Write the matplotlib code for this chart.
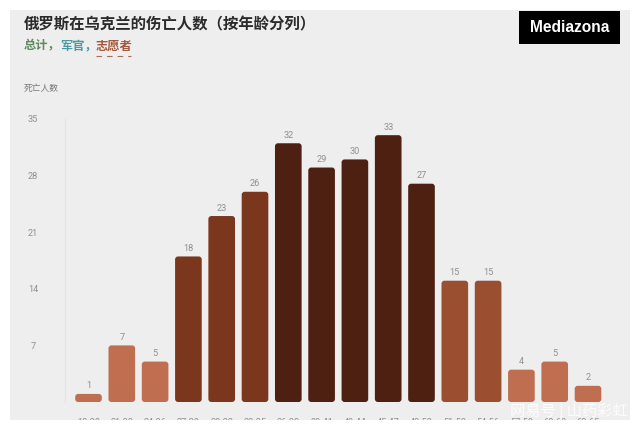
import matplotlib
matplotlib.use('Agg')
import matplotlib.pyplot as plt
from matplotlib.patches import FancyBboxPatch, Rectangle
from matplotlib.lines import Line2D

plt.rcParams['font.family'] = ['Noto Sans CJK SC', 'DejaVu Sans']

ages = ['18-20', '21-23', '24-26', '27-29', '30-32', '33-35', '36-38', '39-41',
        '42-44', '45-47', '48-50', '51-53', '54-56', '57-59', '60-62', '63-65']
deaths = [1, 7, 5, 18, 23, 26, 32, 29, 30, 33, 27, 15, 15, 4, 5, 2]
yticks = [7, 14, 21, 28, 35]

W, H = 640, 430


def fx(px):
    return px / W


def fy(py):
    return 1 - py / H


def bar_color(v):
    if v >= 27:
        return '#4e2011'
    if v >= 18:
        return '#7b361e'
    if v >= 15:
        return '#9a4f31'
    return '#bf6f50'


fig = plt.figure(figsize=(6.4, 4.3), dpi=100, facecolor='white')

# grey panel behind everything
fig.add_artist(Rectangle((fx(10), fy(420)), fx(620), 410 / H, transform=fig.transFigure,
                         fc='#eeeeee', ec='none', zorder=-1))

ax = fig.add_axes([fx(65), fy(402), fx(565), fy(119) - fy(402)])
ax.patch.set_visible(False)
step = 33.3
ax.set_xlim(-(88.5 - 65) / step, (630 - 88.5) / step)
ax.set_ylim(0, 35)
y_scale = (402 - 119) / 35

for i, v in enumerate(deaths):
    ax.add_patch(FancyBboxPatch((i - 0.4, 0), 0.8, v,
                                boxstyle='round,pad=0,rounding_size=0.09',
                                mutation_aspect=step / y_scale,
                                fc=bar_color(v), ec='none'))
    ax.annotate(str(v), (i, v), xytext=(0, 2.5), textcoords='offset points',
                ha='center', va='bottom', fontsize=6.6, color='#8f8f8f', family='Roboto')

for s in ['top', 'right', 'bottom']:
    ax.spines[s].set_visible(False)
ax.spines['left'].set_color('#e4e4e4')
ax.set_xticks(range(len(ages)))
ax.set_xticklabels(ages, fontsize=6.6, color='#8f8f8f', family='Roboto')
ax.set_yticks(yticks)
ax.set_yticklabels(yticks, fontsize=6.6, color='#8f8f8f', ha='center', family='Roboto')
ax.tick_params(axis='x', length=0, pad=11.5)
ax.tick_params(axis='y', length=0, pad=23)

# bottom of the screenshot cuts the age labels
fig.add_artist(Rectangle((0, 0), 1, 10 / H, transform=fig.transFigure,
                         fc='white', ec='none', zorder=5))

fig.text(fx(24), fy(24.5), '俄罗斯在乌克兰的伤亡人数（按年龄分列）', fontsize=11.1,
         fontweight='bold', color='#2a2a2a', va='center')
fig.text(fx(24), fy(46), '总计，', fontsize=8.8, fontweight='bold', color='#5f8a5e', va='center')
fig.text(fx(60), fy(46), '军官，', fontsize=8.8, fontweight='bold', color='#4a9aa5', va='center')
fig.text(fx(96), fy(46), '志愿者', fontsize=8.8, fontweight='bold', color='#a5583c', va='center')
fig.add_artist(Line2D([fx(96), fx(131)], [fy(56), fy(56)], color='#b06a50', lw=0.8,
                      linestyle=(0, (5, 4.5))))
fig.text(fx(24), fy(89), '死亡人数', fontsize=6.3, color='#777777', va='center')

# logo
fig.add_artist(Rectangle((fx(519), fy(44)), fx(101), 33 / H, transform=fig.transFigure,
                         fc='black', ec='none', zorder=6))
fig.text(fx(569.5), fy(28), 'Mediazona', fontsize=11.2, fontweight='bold', color='white',
         family='Liberation Sans', ha='center', va='center', zorder=7)

# watermark
fig.text(fx(628), fy(411), '网易号 | 山药彩虹', fontsize=11, color='white', alpha=0.85,
         ha='right', va='center', zorder=7)

fig.savefig('out.png', dpi=100)
